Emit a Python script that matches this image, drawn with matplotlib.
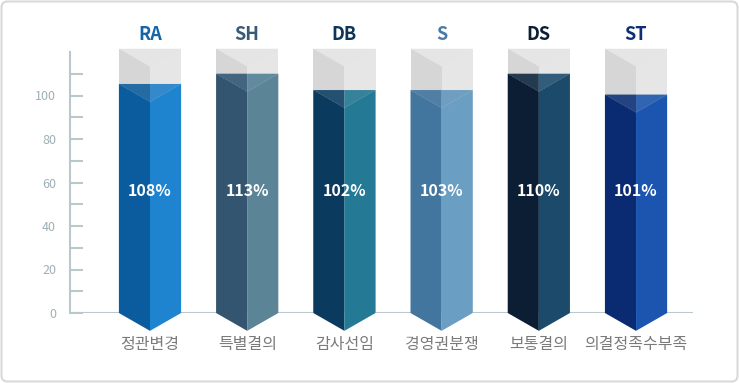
import matplotlib.pyplot as plt
from matplotlib.patches import Polygon, FancyBboxPatch
from matplotlib.transforms import IdentityTransform

plt.rcParams['font.family'] = ['Noto Sans CJK KR', 'DejaVu Sans']

# Data
codes = ['RA', 'SH', 'DB', 'S', 'DS', 'ST']
names = ['정관변경', '특별결의', '감사선임', '경영권분쟁', '보통결의', '의결정족수부족']
rates = [108, 113, 102, 103, 110, 101]              # printed percentages
heights = [105.3, 110, 102.5, 102.5, 110, 100.4]     # drawn fill heights
yticks_major = [0, 20, 40, 60, 80, 100]

# Colours: (left face, right face, label)
left_colors = ['#0b5c9e', '#33556f', '#0b3a5f', '#43769f', '#0b1e33', '#0a2a72']
right_colors = ['#1e84d0', '#5b8597', '#247a94', '#6b9ec3', '#1c4a6b', '#1c55b0']
code_colors = ['#1765a8', '#365a78', '#0e3557', '#4a7aa6', '#0c1e33', '#0f2d78']

fig = plt.figure(figsize=(7.39, 3.83), dpi=100)
ax = fig.add_axes([70 / 739, 70 / 383, 623 / 739, 261 / 383])
ax.set_xlim(-0.823, 5.586)
ax.set_ylim(0, 120)

axis_col = '#b9c8cd'
w = 0.64     # bar width (category units)
d = 8.2      # depth of the V shape (value units)
g_top = 121.5

# baseline
ax.axhline(0, color=axis_col, lw=1.5, zorder=1)

for i, (h, lc, rc) in enumerate(zip(heights, left_colors, right_colors)):
    x0, x1, xm = i - w / 2, i + w / 2, i
    # grey container
    ax.add_patch(Polygon([(x0, 0), (xm, 0), (xm, g_top), (x0, g_top)],
                         closed=True, fc='#d6d6d6', ec='none', zorder=2, clip_on=False))
    ax.add_patch(Polygon([(xm, 0), (x1, 0), (x1, g_top), (xm, g_top)],
                         closed=True, fc='#e6e6e6', ec='none', zorder=2, clip_on=False))
    ax.add_patch(Polygon([(x0, g_top), (x1, g_top), (xm, g_top - d)],
                         closed=True, fc='#e5e5e5', ec='none', zorder=2, clip_on=False))
    # filled prism
    ax.add_patch(Polygon([(x0, 0), (xm, -d), (xm, h), (x0, h)],
                         closed=True, fc=lc, ec='none', zorder=3, clip_on=False))
    ax.add_patch(Polygon([(xm, -d), (x1, 0), (x1, h), (xm, h)],
                         closed=True, fc=rc, ec='none', zorder=3, clip_on=False))
    ax.add_patch(Polygon([(x0, h), (x1, h), (xm, h - d)],
                         closed=True, fc='#7f9fb8', ec='none', alpha=0.22, zorder=4,
                         clip_on=False))
    ax.plot([x0, xm, x1], [h, h - d, h], color='white', lw=0.6, alpha=0.25,
            ls=(0, (1, 1)), zorder=5, clip_on=False)

    ax.text(i, 56, f'{rates[i]}%', ha='center', va='center', color='white',
            fontsize=11.5, fontweight='bold', zorder=6)
    ax.text(i, 128, codes[i], ha='center', va='center', color=code_colors[i],
            fontsize=13, fontweight='bold', clip_on=False)
    ax.text(i, -14.7, names[i], ha='center', va='center', color='#7a7a7a',
            fontsize=11.5, clip_on=False)

# axis styling
for s in ['top', 'right', 'bottom']:
    ax.spines[s].set_visible(False)
ax.spines['left'].set_color(axis_col)
ax.spines['left'].set_linewidth(1.5)
ax.set_xticks([])
ax.set_yticks(yticks_major)
ax.set_yticks(range(10, 121, 20), minor=True)
ax.tick_params(axis='y', which='both', direction='in', length=9.5, width=1.5,
               color=axis_col, labelcolor='#9fb0b6', labelsize=9, pad=10)
ax.patch.set_alpha(0)

# rounded outer border
fig.add_artist(FancyBboxPatch((1.5, 1.5), 736, 380,
                              boxstyle='round,pad=0,rounding_size=6',
                              transform=IdentityTransform(), fc='none',
                              ec='#d9d9d9', lw=1.5))

fig.savefig('out.png', dpi=100)
